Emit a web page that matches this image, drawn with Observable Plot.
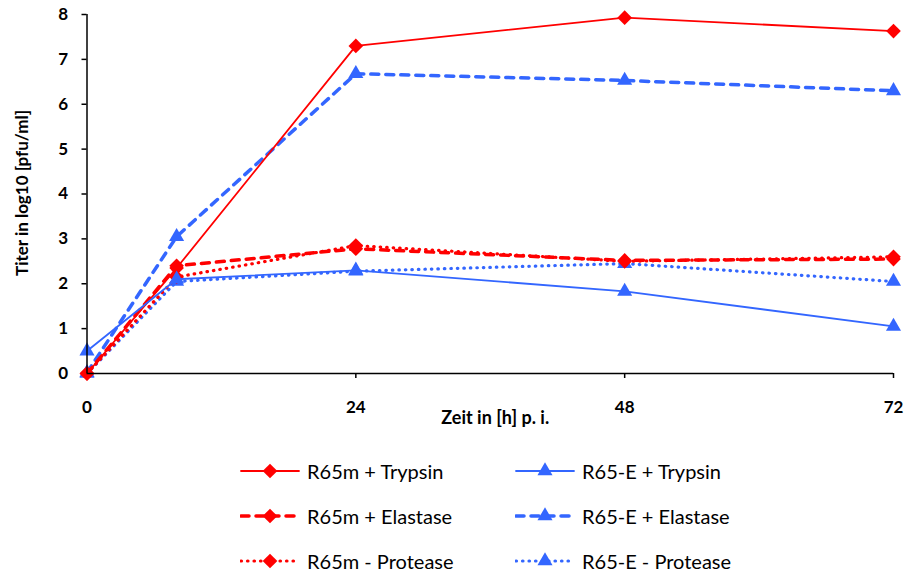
<!DOCTYPE html>
<html>
<head>
<meta charset="utf-8">
<script src="https://cdn.jsdelivr.net/npm/d3@7"></script>
<script src="https://cdn.jsdelivr.net/npm/@observablehq/plot@0.6"></script>
<style>
  body { margin: 0; background: #fff; }
  #wrap { position: relative; width: 906px; height: 573px; font-family: Lato, "Open Sans", sans-serif; }
  #wrap svg.chart { position: absolute; left: 0; top: 0; }
  .item { position: absolute; display: flex; align-items: center; height: 24px; font-size: 20px; color: #000; white-space: nowrap; }
  .item svg { margin-right: 7px; }
</style>
</head>
<body>
<div id="wrap"></div>
<script>
// Sampling times (hours post infection)
const hours = [0, 8, 24, 48, 72];
const xTicks = [0, 24, 48, 72];
const yTicks = [0, 1, 2, 3, 4, 5, 6, 7, 8];

// Series labels, in legend order (row by row)
const seriesNames = [
  "R65m + Trypsin", "R65-E + Trypsin",
  "R65m + Elastase", "R65-E + Elastase",
  "R65m - Protease", "R65-E - Protease"
];

// Titer values, log10 pfu/ml
const r65mTrypsin   = [0.00, 2.35, 7.30, 7.93, 7.63];
const r65eTrypsin   = [0.50, 2.10, 2.30, 1.83, 1.05];
const r65mElastase  = [0.00, 2.40, 2.78, 2.52, 2.55];
const r65eElastase  = [0.02, 3.05, 6.68, 6.53, 6.30];
const r65mProtease  = [0.00, 2.15, 2.85, 2.50, 2.60];
const r65eProtease  = [0.00, 2.05, 2.28, 2.45, 2.05];

const seriesValues = [r65mTrypsin, r65eTrypsin, r65mElastase, r65eElastase, r65mProtease, r65eProtease];

const RED = "#ff0000", BLUE = "#3366ff";
const styles = [
  {color: RED,  width: 1.8, dash: null,  symbol: "diamond2", r: 6.6},
  {color: BLUE, width: 1.8, dash: null,  symbol: "triangle", r: 5.6},
  {color: RED,  width: 3.5, dash: "8,7", symbol: "diamond2", r: 6.6},
  {color: BLUE, width: 3.5, dash: "8,7", symbol: "triangle", r: 5.6},
  {color: RED,  width: 3.2, dash: "0.5,6", symbol: "diamond2", r: 6.6},
  {color: BLUE, width: 3.2, dash: "0.5,6", symbol: "triangle", r: 5.6}
];

const rows = seriesNames.flatMap((name, i) =>
  hours.map((h, j) => ({series: name, idx: i, hour: h, titer: seriesValues[i][j]}))
);

// Blue series at the origin sit beneath the red markers, so draw those first
const drawOrder = [3, 5, 0, 2, 4, 1];

const marks = [];
for (const i of drawOrder) {
  const s = styles[i];
  const data = rows.filter(d => d.idx === i);
  marks.push(Plot.line(data, {
    x: "hour", y: "titer", stroke: s.color, strokeWidth: s.width,
    strokeDasharray: s.dash ?? undefined, strokeLinecap: "round", strokeLinejoin: "round"
  }));
  marks.push(Plot.dot(data, {
    x: "hour", y: "titer", symbol: () => s.symbol, r: s.r, fill: s.color, stroke: "none"
  }));
}

const chart = Plot.plot({
  width: 906,
  height: 440,
  marginLeft: 86.5,
  marginRight: 13,
  marginTop: 14,
  marginBottom: 67,
  style: {fontFamily: "Lato, 'Open Sans', sans-serif", background: "#fff", color: "#000"},
  x: {domain: [0, 72]},
  y: {domain: [0, 8]},
  symbol: {type: "identity"},
  marks: [
    Plot.axisY({ticks: yTicks, tickSize: 5, tickPadding: 14, fontSize: 17, fontWeight: "bold", label: null, strokeWidth: 1.5}),
    Plot.axisX({ticks: xTicks, tickSize: 5, tickPadding: 22, fontSize: 17, fontWeight: "bold", label: null, strokeWidth: 1.5}),
    ...marks,
    Plot.ruleX([0], {stroke: "#000", strokeWidth: 1.5}),
    Plot.ruleY([0], {stroke: "#000", strokeWidth: 1.5}),
    Plot.text(["Titer in log10 [pfu/ml]"], {text: d => d, frameAnchor: "left", textAnchor: "middle", rotate: -90, dx: -64, dy: -1, fontWeight: "bold", fontSize: 17}),
    Plot.text(["Zeit in [h] p. i."], {text: d => d, frameAnchor: "bottom", textAnchor: "middle", dx: 5, dy: 50, fontWeight: "bold", fontSize: 18})
  ]
});
chart.classList.add("chart");
const wrap = document.getElementById("wrap");
wrap.appendChild(chart);

// Legend below the chart: two columns, three rows
const colLeft = [240, 515];
const rowCenter = [471, 516, 561];
seriesNames.forEach((name, i) => {
  const s = styles[i];
  const item = document.createElement("div");
  item.className = "item";
  item.style.left = colLeft[i % 2] + "px";
  item.style.top = (rowCenter[Math.floor(i / 2)] - 12) + "px";
  const sw = d3.create("svg").attr("width", 60).attr("height", 24);
  sw.append("line").attr("x1", 1).attr("x2", 59).attr("y1", 12).attr("y2", 12)
    .attr("stroke", s.color).attr("stroke-width", s.width)
    .attr("stroke-dasharray", s.dash).attr("stroke-linecap", "round");
  const sym = s.symbol === "diamond2" ? d3.symbolDiamond2 : d3.symbolTriangle;
  sw.append("path").attr("transform", "translate(30,12)")
    .attr("d", d3.symbol(sym, Math.PI * s.r * s.r)()).attr("fill", s.color);
  item.appendChild(sw.node());
  const label = document.createElement("span");
  label.textContent = name;
  item.appendChild(label);
  wrap.appendChild(item);
});
</script>
</body>
</html>
